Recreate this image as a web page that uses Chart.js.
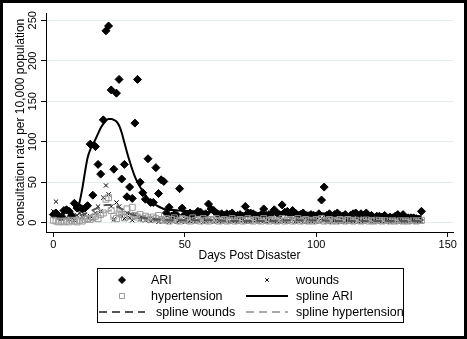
<!DOCTYPE html>
<html>
<head>
<meta charset="utf-8">
<script src="https://cdn.jsdelivr.net/npm/chart.js@4.4.0/dist/chart.umd.min.js"></script>
<style>
    html, body { margin: 0; padding: 0; background: #000; }
    #wrap { position: absolute; left: 3px; top: 3px; width: 461px; height: 333px; background: #fff; }
</style>
</head>
<body>
<div id="wrap"><canvas id="chart"></canvas></div>
<script>
// days post disaster (one reading per day)
const days = Array.from({ length: 141 }, (_, i) => i);

const ariValues = [
    10, 12, 8, 7, 15, 16, 14, 9, 24, 18,
    19, 17, 18, 21, 97, 34, 94, 72, 60, 127,
    237, 243, 164, 66, 160, 177, 54, 72, 32, 44,
    30, 123, 177, 50, 37, 29, 79, 25, 25, 68,
    36, 53, 51, 12, 19, 8, 10, 9, 42, 18,
    10, 9, 12, 8, 10, 14, 13, 9, 11, 23,
    17, 15, 12, 10, 11, 9, 11, 10, 12, 8,
    9, 10, 8, 20, 12, 12, 11, 9, 8, 10,
    17, 9, 10, 11, 16, 12, 10, 22, 13, 14,
    10, 15, 12, 9, 10, 12, 9, 8, 10, 9,
    8, 11, 28, 44, 9, 11, 8, 10, 12, 9,
    8, 10, 7, 9, 11, 12, 8, 11, 9, 12,
    7, 9, 6, 8, 8, 7, 9, 5, 7, 6,
    8, 10, 7, 10, 5, 6, 6, 6, 5, 4,
    14
];

const woundsValues = [
    14, 26, 8, 5, 10, 6, 4, 8, 3, 9,
    12, 7, 10, 6, 8, 5, 12, 20, 14, 31,
    46, 35, 20, 4, 25, 20, 8, 5, 12, 6,
    3, 10, 7, 4, 6, 3, 5, 2, 4, 3,
    1, 4, 2, 3, 1, 2, 4, 1, 3, 2,
    1, 3, 2, 4, 1, 2, 3, 1, 2, 4,
    2, 1, 3, 2, 1, 2, 3, 1, 4, 2,
    1, 2, 3, 1, 2, 1, 3, 2, 1, 4,
    2, 1, 2, 3, 1, 2, 1, 3, 2, 1,
    2, 4, 1, 2, 3, 1, 2, 1, 2, 3,
    1, 2, 5, 3, 1, 2, 1, 3, 2, 1,
    2, 1, 3, 1, 2, 4, 1, 2, 1, 3,
    2, 1, 2, 1, 3, 2, 1, 2, 1, 2,
    3, 1, 2, 1, 2, 1, 3, 2, 1, 2,
    1
];

const hypertensionValues = [
    3, 2, 1, 2, 1, 2, 1, 3, 2, 1,
    3, 2, 4, 5, 4, 6, 8, 5, 10, 12,
    29, 31, 15, 8, 5, 12, 10, 6, 17, 8,
    19, 9, 7, 10, 5, 8, 6, 4, 7, 5,
    9, 4, 3, 5, 2, 4, 6, 3, 2, 5,
    4, 3, 2, 6, 3, 4, 2, 5, 3, 2,
    4, 3, 5, 2, 3, 4, 2, 3, 5, 2,
    3, 4, 2, 3, 5, 3, 2, 4, 3, 2,
    5, 3, 2, 4, 3, 2, 3, 5, 2, 3,
    4, 2, 3, 5, 2, 3, 4, 2, 3, 2,
    4, 3, 5, 2, 3, 4, 2, 3, 2, 4,
    3, 2, 4, 3, 2, 3, 5, 2, 3, 4,
    2, 3, 2, 4, 3, 2, 3, 4, 2, 3,
    2, 4, 3, 2, 3, 2, 4, 3, 2, 3,
    3
];

// smoothed curves
const ariSplineDays = [9, 10, 11, 12, 13, 14, 15, 16, 17, 18, 19, 20, 21, 22, 23, 24, 25, 26, 27, 28,
    29, 30, 31, 32, 33, 34, 35, 36, 38, 40, 42, 44, 48, 55, 60, 70, 80, 90, 100, 110, 120, 130, 140];
const ariSplineValues = [18, 26, 42, 62, 80, 90, 96, 103, 110, 117, 122, 126, 128, 128, 127, 125, 120, 111, 99, 87,
    76, 66, 57, 50, 44, 39, 34, 30, 24, 20, 17, 16, 15, 14, 13, 11, 12, 13, 12, 10, 9, 8, 8];

const otherSplineDays = [10, 12, 14, 16, 18, 20, 22, 24, 26, 28, 30, 33, 36, 40, 45, 50, 60, 70, 80, 90, 100, 110, 120, 130, 140];
const woundsSplineValues = [9, 11, 14, 17, 20, 22, 22, 20, 17, 13, 10, 7, 5, 4, 3, 3, 3, 2, 2, 3, 3, 2, 2, 2, 2];
const hypertensionSplineValues = [3, 4, 5, 7, 10, 13, 15, 14, 12, 10, 8, 6, 5, 4, 3, 3, 3, 3, 3, 3, 3, 3, 3, 3, 3];

const xTicks = [0, 50, 100, 150];
const yTicks = [0, 50, 100, 150, 200, 250];

const FONT = "'Liberation Sans', Arial, sans-serif";

function pts(xs, ys) {
    return xs.map((x, i) => ({ x: x, y: ys[i] }));
}

// rotated y tick labels (Stata style)
const yLabelPlugin = {
    id: "yLabels",
    afterDraw(chart) {
        const ctx = chart.ctx;
        const y = chart.scales.y;
        ctx.save();
        ctx.font = "11px " + FONT;
        ctx.fillStyle = "#000";
        ctx.textAlign = "center";
        ctx.textBaseline = "middle";
        yTicks.forEach(v => {
            ctx.save();
            ctx.translate(29.5, y.getPixelForValue(v));
            ctx.rotate(-Math.PI / 2);
            ctx.fillText(String(v), 0, 0);
            ctx.restore();
        });
        ctx.restore();
    }
};

// boxed two column legend under the plot
const legendPlugin = {
    id: "boxLegend",
    afterDraw(chart) {
        const ctx = chart.ctx;
        const ds = chart.data.datasets;
        ctx.save();
        ctx.strokeStyle = "#000";
        ctx.lineWidth = 1;
        ctx.strokeRect(94.5, 265.5, 306, 54);

        const rows = [277, 293, 309];
        const items = [
            { i: 0, row: 0, col: 0, kind: "point", r: 3.5 },
            { i: 1, row: 0, col: 1, kind: "point", r: 2.5 },
            { i: 2, row: 1, col: 0, kind: "point", r: 3.5 },
            { i: 3, row: 1, col: 1, kind: "line" },
            { i: 4, row: 2, col: 0, kind: "line" },
            { i: 5, row: 2, col: 1, kind: "line" }
        ];
        const keyX = [[96, 142], [243, 285]];
        const textX = [[148, 148, 153], [293, 293, 293]];

        ctx.font = "12.5px " + FONT;
        ctx.textBaseline = "middle";
        ctx.textAlign = "left";
        items.forEach(it => {
            const d = ds[it.i];
            const y = rows[it.row];
            const [x0, x1] = keyX[it.col];
            if (it.kind === "point") {
                ctx.fillStyle = d.backgroundColor;
                ctx.strokeStyle = d.borderColor;
                ctx.lineWidth = 1;
                Chart.helpers.drawPoint(ctx, {
                    pointStyle: d.pointStyle, rotation: 0, radius: it.r, borderWidth: 1
                }, (x0 + x1) / 2, y);
            } else {
                ctx.save();
                ctx.strokeStyle = d.borderColor;
                ctx.lineWidth = d.borderWidth;
                ctx.setLineDash(d.borderDash || []);
                ctx.beginPath();
                ctx.moveTo(x0, y);
                ctx.lineTo(x1, y);
                ctx.stroke();
                ctx.restore();
            }
            ctx.fillStyle = "#000";
            ctx.fillText(d.label, textX[it.col][it.row], y + 0.5);
        });
        ctx.restore();
    }
};

new Chart(document.getElementById("chart"), {
    type: "scatter",
    data: {
        datasets: [
            {
                label: "ARI",
                data: pts(days, ariValues),
                pointStyle: "rectRot",
                pointRadius: 4,
                borderWidth: 1,
                backgroundColor: "#000",
                borderColor: "#000",
                order: 6
            },
            {
                label: "wounds",
                data: pts(days, woundsValues),
                pointStyle: "crossRot",
                pointRadius: 3,
                borderWidth: 1,
                backgroundColor: "#000",
                borderColor: "#000",
                order: 5
            },
            {
                label: "hypertension",
                data: pts(days, hypertensionValues),
                pointStyle: "rect",
                pointRadius: 4.2,
                borderWidth: 1,
                backgroundColor: "rgba(0,0,0,0)",
                borderColor: "#9a9a9a",
                order: 4
            },
            {
                label: "spline ARI",
                data: pts(ariSplineDays, ariSplineValues),
                showLine: true,
                pointRadius: 0,
                borderColor: "#000",
                borderWidth: 2,
                cubicInterpolationMode: "monotone",
                order: 1
            },
            {
                label: "spline wounds",
                data: pts(otherSplineDays, woundsSplineValues),
                showLine: true,
                pointRadius: 0,
                borderColor: "#555",
                borderWidth: 2,
                borderDash: [8, 5],
                cubicInterpolationMode: "monotone",
                order: 2
            },
            {
                label: "spline hypertension",
                data: pts(otherSplineDays, hypertensionSplineValues),
                showLine: true,
                pointRadius: 0,
                borderColor: "#aaa",
                borderWidth: 2,
                borderDash: [8, 5],
                cubicInterpolationMode: "monotone",
                order: 3
            }
        ]
    },
    options: {
        responsive: true,
        maintainAspectRatio: false,
        animation: false,
        layout: { padding: { top: 10, right: 11, bottom: 68, left: 0 } },
        plugins: {
            legend: { display: false },
            tooltip: { enabled: false }
        },
        scales: {
            x: {
                type: "linear",
                min: -2.8,
                max: 152,
                afterBuildTicks: s => { s.ticks = xTicks.map(v => ({ value: v })); },
                afterFit: s => { s.height = 36; },
                grid: { drawOnChartArea: false, tickLength: 5, tickColor: "#000" },
                border: { color: "#000", width: 1 },
                ticks: { color: "#000", font: { family: FONT, size: 11 }, padding: 1, maxRotation: 0 },
                title: {
                    display: true,
                    text: "Days Post Disaster",
                    color: "#000",
                    font: { family: FONT, size: 12 },
                    padding: { top: 0, bottom: 5 }
                }
            },
            y: {
                min: -11.5,
                max: 259,
                afterBuildTicks: s => { s.ticks = yTicks.map(v => ({ value: v })); },
                afterFit: s => { s.width = 43; },
                grid: { color: "#e4ecee", tickColor: "#000", tickLength: 5 },
                border: { color: "#000", width: 1 },
                ticks: { display: false },
                title: {
                    display: true,
                    text: "consultation rate per 10,000 population",
                    color: "#000",
                    font: { family: FONT, size: 12 },
                    padding: { top: 10.5, bottom: 0 }
                }
            }
        }
    },
    plugins: [yLabelPlugin, legendPlugin]
});
</script>
</body>
</html>
